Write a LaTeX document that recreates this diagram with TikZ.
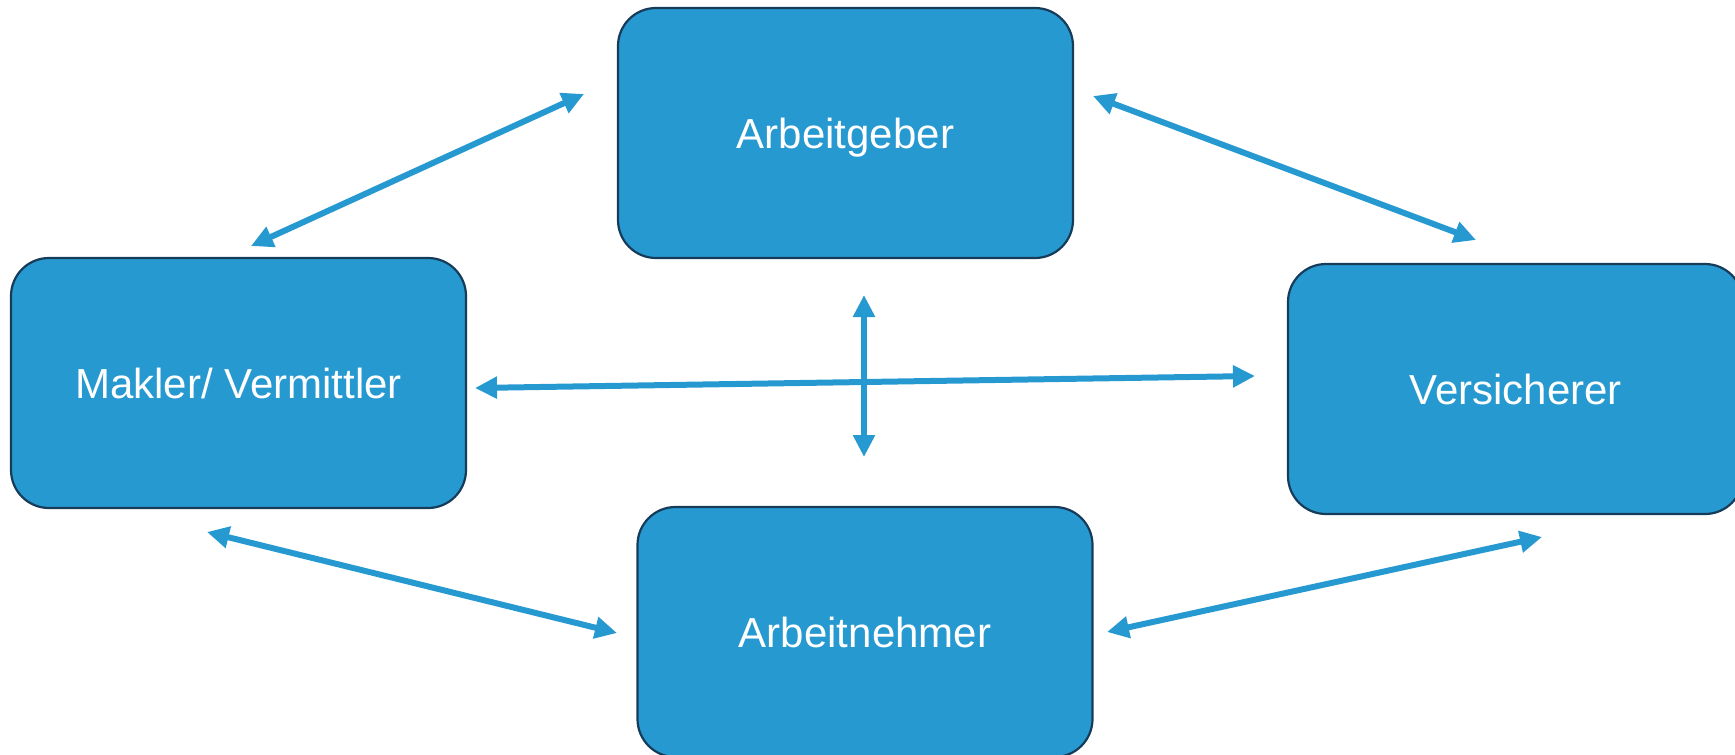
\documentclass[tikz,border=0pt]{standalone}
\usepackage{fontspec}
\setmainfont{Liberation Sans}
\usetikzlibrary{arrows.meta}
\definecolor{boxblue}{RGB}{39,153,209}
\definecolor{boxline}{RGB}{22,60,90}
\begin{document}
\begin{tikzpicture}[x=1pt, y=-1pt,
		box/.style = {draw=boxline, line width=2.2pt, fill=boxblue, rounded corners=38pt,
			minimum width=455pt, minimum height=250pt, text=white,
			font=\fontsize{42}{50}\selectfont, text height=30pt, text depth=0pt},
		link/.style = {boxblue, line width=6pt,
			{Triangle[length=22pt,width=21pt]}-{Triangle[length=22pt,width=21pt]}}]
			\useasboundingbox (0,0) rectangle (1735,755);
			
			% Boxes
			\node[box] (ag) at (845.5,133) {Arbeitgeber};
			\node[box] (mak) at (238.5,383) {Makler/ Vermittler};
			\node[box] (ver) at (1515.5,389) {Versicherer};
			\node[box] (an) at (865,632) {Arbeitnehmer};
			
			% Arrow ends
			\coordinate (makag1) at (251,246);
			\coordinate (makag2) at (584,94);
			\coordinate (agver1) at (1093,96);
			\coordinate (agver2) at (1476,240);
			\coordinate (makver1) at (475,388);
			\coordinate (makver2) at (1255,376);
			\coordinate (agan1) at (864,295);
			\coordinate (agan2) at (864,457);
			\coordinate (makan1) at (207,532);
			\coordinate (makan2) at (617,633);
			\coordinate (anver1) at (1107,632);
			\coordinate (anver2) at (1542,537);
			
			% Arrows
			\draw[link] (makag1) -- (makag2);
			\draw[link] (agver1) -- (agver2);
			\draw[link] (makver1) -- (makver2);
			\draw[link] (agan1) -- (agan2);
			\draw[link] (makan1) -- (makan2);
			\draw[link] (anver1) -- (anver2);
		\end{tikzpicture}
\end{document}
